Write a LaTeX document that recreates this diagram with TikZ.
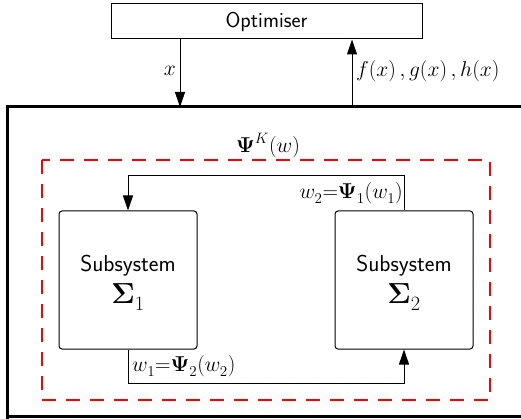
\RequirePackage{fix-cm}
\documentclass[tikz,border=0pt]{standalone}
\usepackage{amsmath,bm}
\usepackage{fontspec}
\usetikzlibrary{arrows.meta}
\newcommand\mylsub[1]{_{\lower2.5pt\hbox{$\scriptstyle #1$}}}
\tikzset{
  blk/.style={draw, line width=1pt, inner sep=0pt},
  sub/.style={draw, line width=1pt, rounded corners=3pt, minimum width=138pt, minimum height=138pt, inner sep=0pt},
  subtext/.style={inner sep=0pt, align=center, font=\sffamily\fontsize{23}{26}\selectfont},
  conn/.style={line width=1pt, -{Triangle[width=10pt,length=15pt]}},
  lbl/.style={inner sep=1pt, font=\fontsize{21.5}{24}\selectfont},
}
\begin{document}
\begin{tikzpicture}[x=1pt,y=-1pt]
\useasboundingbox (0,0) rectangle (521,419);
\clip (0,0) rectangle (521,419);
\node[blk, minimum width=311pt, minimum height=35pt, font=\sffamily\fontsize{21.5}{24}\selectfont] (opt) at (266.5,21.5) {Optimiser};
\draw[line width=3pt] (7,419) coordinate (bl) -- (7,107) coordinate (tl) -- (540,107) coordinate (tr);
\draw[line width=3pt] (5.5,416.5) -- (540,416.5);
\coordinate (xin) at (180,107);
\coordinate (fout) at (352,107);
\draw[conn] (opt.south -| xin) -- (xin);
\draw[conn] (fout) -- (opt.south -| fout);
\node[lbl, anchor=east] (xl) at (177,71) {$x$};
\node[lbl, anchor=west] (fl) at (355,71) {$f(x)\,,g(x)\,,h(x)$};
\draw[red, line width=1.3pt, dash pattern=on 14pt off 10pt] (42,160) rectangle (490,400);
\node[lbl] (psik) at (268,146) {$\bm{\Psi}^{K}(w)$};
\node[sub] (s1) at (128,280) {};
\node[sub] (s2) at (404,280) {};
\node[subtext] (s1t) at ([yshift=-3pt]s1.center) {Subsystem\\[6pt]{\fontsize{29}{30}\selectfont$\bm{\Sigma}\mylsub{1}$}};
\node[subtext] (s2t) at ([yshift=-3pt]s2.center) {Subsystem\\[6pt]{\fontsize{29}{30}\selectfont$\bm{\Sigma}\mylsub{2}$}};
\coordinate (tA) at (404,176);
\coordinate (tB) at (128,176);
\coordinate (bA) at (128,383);
\coordinate (bB) at (404,383);
\draw[conn] (s2.north) -- (tA) -- (tB) -- (s1.north);
\draw[conn] (s1.south) -- (bA) -- (bB) -- (s2.south);
\node[lbl, anchor=east, inner sep=0pt] (l2) at (403,193) {$w\mylsub{2}{=}\bm{\Psi}\mylsub{1}(w\mylsub{1})$};
\node[lbl, anchor=west, inner sep=0pt] (l1) at (132,366) {$w\mylsub{1}{=}\bm{\Psi}\mylsub{2}(w\mylsub{2})$};
\end{tikzpicture}
\end{document}
